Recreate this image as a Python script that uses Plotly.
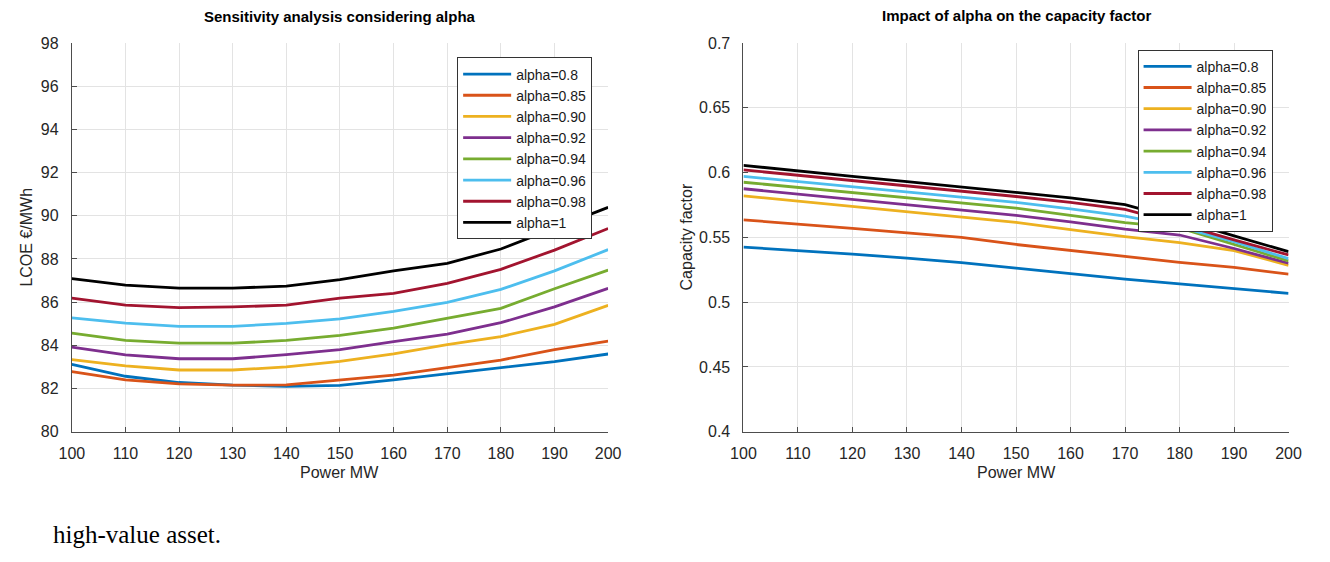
import plotly.graph_objects as go

power = [100, 110, 120, 130, 140, 150, 160, 170, 180, 190, 200]
labels = ["alpha=0.8", "alpha=0.85", "alpha=0.90", "alpha=0.92",
          "alpha=0.94", "alpha=0.96", "alpha=0.98", "alpha=1"]
colors = ["#0072BD", "#D95319", "#EDB120", "#7E2F8E",
          "#77AC30", "#4DBEEE", "#A2142F", "#000000"]

# LCOE (EUR/MWh)
lcoe_080 = [83.12, 82.57, 82.28, 82.16, 82.10, 82.15, 82.40, 82.68, 82.94, 83.25, 83.60]
lcoe_085 = [82.78, 82.40, 82.22, 82.16, 82.17, 82.38, 82.62, 82.97, 83.32, 83.80, 84.20]
lcoe_090 = [83.34, 83.05, 82.86, 82.86, 83.00, 83.26, 83.61, 84.03, 84.41, 84.97, 85.85]
lcoe_092 = [83.92, 83.56, 83.38, 83.38, 83.57, 83.80, 84.17, 84.52, 85.05, 85.78, 86.64]
lcoe_094 = [84.57, 84.23, 84.10, 84.10, 84.23, 84.46, 84.80, 85.24, 85.71, 86.62, 87.48]
lcoe_096 = [85.27, 85.03, 84.88, 84.88, 85.02, 85.23, 85.57, 85.99, 86.59, 87.45, 88.43]
lcoe_098 = [86.19, 85.86, 85.75, 85.78, 85.86, 86.19, 86.41, 86.87, 87.52, 88.41, 89.41]
lcoe_100 = [87.09, 86.79, 86.65, 86.65, 86.74, 87.04, 87.45, 87.80, 88.46, 89.41, 90.39]

# Capacity factor
cf_080 = [0.5425, 0.5400, 0.5370, 0.5340, 0.5305, 0.5262, 0.5218, 0.5177, 0.5141, 0.5102, 0.5068]
cf_085 = [0.5635, 0.5605, 0.5570, 0.5535, 0.5500, 0.5445, 0.5400, 0.5352, 0.5307, 0.5268, 0.5216]
cf_090 = [0.5820, 0.5780, 0.5740, 0.5700, 0.5660, 0.5615, 0.5560, 0.5505, 0.5459, 0.5398, 0.5284]
cf_092 = [0.5875, 0.5835, 0.5795, 0.5755, 0.5715, 0.5670, 0.5620, 0.5564, 0.5518, 0.5414, 0.5300]
cf_094 = [0.5925, 0.5885, 0.5845, 0.5805, 0.5765, 0.5725, 0.5670, 0.5614, 0.5573, 0.5443, 0.5318]
cf_096 = [0.5970, 0.5930, 0.5890, 0.5850, 0.5810, 0.5770, 0.5720, 0.5664, 0.5580, 0.5466, 0.5336]
cf_098 = [0.6020, 0.5980, 0.5940, 0.5900, 0.5860, 0.5815, 0.5770, 0.5716, 0.5602, 0.5480, 0.5364]
cf_100 = [0.6055, 0.6010, 0.5970, 0.5930, 0.5890, 0.5850, 0.5805, 0.5752, 0.5636, 0.5511, 0.5390]

lcoe_series = [lcoe_080, lcoe_085, lcoe_090, lcoe_092, lcoe_094, lcoe_096, lcoe_098, lcoe_100]
cf_series = [cf_080, cf_085, cf_090, cf_092, cf_094, cf_096, cf_098, cf_100]

x_ticks = [100, 110, 120, 130, 140, 150, 160, 170, 180, 190, 200]
lcoe_ticks = [80, 82, 84, 86, 88, 90, 92, 94, 96, 98]
cf_ticks = [0.4, 0.45, 0.5, 0.55, 0.6, 0.65, 0.7]
cf_tick_text = ["0.4", "0.45", "0.5", "0.55", "0.6", "0.65", "0.7"]

W, H = 1330, 562
FONT = "Liberation Sans, Arial, sans-serif"
TXT = "#262626"
AX = "#4d4d4d"
GRID = "#e3e3e3"

fig = go.Figure()
for lab, col, ys in zip(labels, colors, lcoe_series):
    fig.add_trace(go.Scatter(x=power, y=ys, mode="lines", name=lab,
                             line=dict(color=col, width=2.8),
                             xaxis="x", yaxis="y", legend="legend"))
for lab, col, ys in zip(labels, colors, cf_series):
    fig.add_trace(go.Scatter(x=power, y=ys, mode="lines", name=lab,
                             line=dict(color=col, width=2.8),
                             xaxis="x2", yaxis="y2", legend="legend2"))

def px_x(p):
    return p / W

def px_y(p):
    return 1 - p / H

axis_common = dict(showgrid=True, gridcolor=GRID, gridwidth=1,
                   showline=True, linecolor=AX, linewidth=1,
                   ticks="inside", ticklen=5, tickcolor=AX,
                   tickfont=dict(family=FONT, size=16, color=TXT),
                   zeroline=False, mirror=False)

L0, L1 = 60, 607
R0, R1 = 745, 1301
T, B = 36, 437

fig.update_layout(
    width=W, height=H,
    margin=dict(l=0, r=0, t=0, b=0),
    paper_bgcolor="white", plot_bgcolor="white",
    xaxis=dict(domain=[px_x(L0), px_x(L1)], range=[100, 200],
               tickvals=x_ticks, anchor="y", ticklabelstandoff=7, **axis_common),
    yaxis=dict(domain=[px_y(B), px_y(T)], range=[80, 98], tickvals=lcoe_ticks,
               anchor="x", ticklabelstandoff=9, **axis_common),
    xaxis2=dict(domain=[px_x(R0), px_x(R1)], range=[100, 200],
                tickvals=x_ticks, anchor="y2", ticklabelstandoff=7, **axis_common),
    yaxis2=dict(domain=[px_y(B), px_y(T)], range=[0.4, 0.7], tickvals=cf_ticks,
                ticktext=cf_tick_text, anchor="x2", ticklabelstandoff=9, **axis_common),
    legend=dict(x=px_x(453), y=px_y(51), xanchor="left", yanchor="top",
                bgcolor="white", bordercolor="#333333", borderwidth=1,
                itemwidth=48,
                font=dict(family=FONT, size=14, color="#1a1a1a"), tracegroupgap=0),
    legend2=dict(x=px_x(1147), y=px_y(43), xanchor="left", yanchor="top",
                 bgcolor="white", bordercolor="#333333", borderwidth=1,
                 itemwidth=48,
                 font=dict(family=FONT, size=14, color="#1a1a1a"), tracegroupgap=0),
    showlegend=True,
)

ann = [
    dict(text="<b>Sensitivity analysis considering alpha</b>", x=px_x((L0 + L1) / 2), y=px_y(9),
         font=dict(size=15, color="#000000")),
    dict(text="<b>Impact of alpha on the capacity factor</b>", x=px_x((R0 + R1) / 2), y=px_y(8),
         font=dict(size=15, color="#000000")),
    dict(text="Power MW", x=px_x((L0 + L1) / 2), y=px_y(479), font=dict(size=16, color=TXT)),
    dict(text="Power MW", x=px_x((R0 + R1) / 2), y=px_y(479), font=dict(size=16, color=TXT)),
    dict(text="LCOE €/MWh", x=px_x(14), y=px_y(236), textangle=-90,
         font=dict(size=16, color=TXT)),
    dict(text="Capacity factor", x=px_x(687), y=px_y(236), textangle=-90,
         font=dict(size=16, color=TXT)),
]
for a in ann:
    a.setdefault("xanchor", "center")
    a.setdefault("yanchor", "middle")
    a["font"].setdefault("family", FONT)
    fig.add_annotation(xref="paper", yref="paper", showarrow=False, **a)

fig.add_annotation(text="high-value asset.", xref="paper", yref="paper",
                   x=px_x(39), y=px_y(543), xanchor="left", yanchor="middle",
                   showarrow=False,
                   font=dict(family="Liberation Serif, serif", size=25, color="#000000"))

fig.write_html("out.html")
